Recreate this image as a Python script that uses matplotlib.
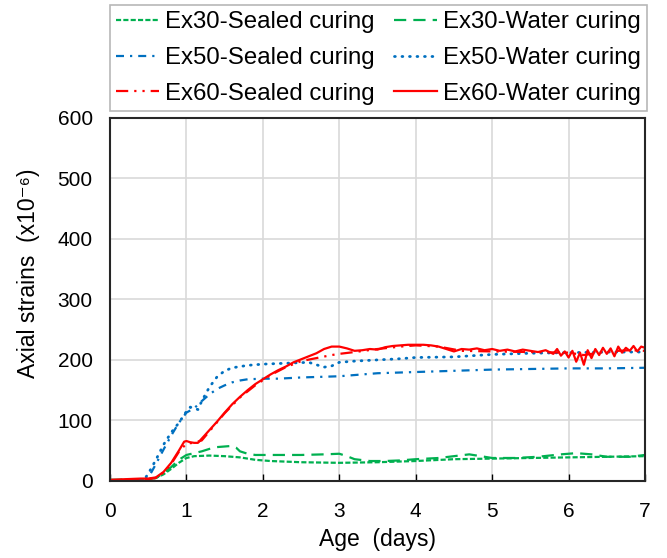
import matplotlib.pyplot as plt

plt.rcParams["font.family"] = ["Liberation Sans", "DejaVu Sans"]

# Ex30
ex30_sealed_age = [0, 0.5, 0.6, 0.7, 0.8, 0.9, 1.0, 1.1, 1.3, 1.5, 1.7, 1.9, 2.1, 2.5, 3.0, 3.5, 4.0, 4.5, 5.0, 5.5, 6.0, 6.5, 7.0]
ex30_sealed = [1, 3, 5, 11, 20, 30, 38, 41, 42, 41, 39, 35, 33, 31, 30, 31, 33, 36, 37, 38, 39, 40, 41]
ex30_water_age = [0, 0.5, 0.6, 0.7, 0.8, 0.9, 1.0, 1.1, 1.2, 1.3, 1.4, 1.5, 1.6, 1.65, 1.7, 1.8, 1.9, 2.0, 2.5, 2.8, 3.0,
                  3.1, 3.2, 3.4, 3.6, 3.8, 4.0, 4.3, 4.5, 4.7, 4.9, 5.0, 5.3, 5.6, 5.9, 6.1, 6.3, 6.5, 6.8, 7.0]
ex30_water = [2, 3, 5, 13, 23, 35, 43, 46, 49, 53, 56, 57, 58, 55, 49, 45, 43, 43, 43, 44, 45,
              41, 36, 33, 33, 34, 36, 38, 41, 44, 40, 38, 38, 40, 44, 46, 44, 40, 40, 43]

# Ex50
ex50_sealed_age = [0, 0.45, 0.5, 0.6, 0.7, 0.8, 0.9, 1.0, 1.1, 1.2, 1.3, 1.4, 1.5, 1.6, 1.7, 1.8, 2.0, 2.2, 2.5, 3.0,
                   3.5, 4.0, 4.5, 5.0, 5.5, 6.0, 6.5, 7.0]
ex50_sealed = [0, 1, 5, 28, 52, 75, 96, 113, 120, 132, 143, 152, 158, 163, 166, 168, 169, 169, 171, 173,
               178, 180, 182, 184, 185, 186, 186, 187]
ex50_water_age = [0, 0.4, 0.45, 0.5, 0.6, 0.7, 0.8, 0.9, 1.0, 1.05, 1.1, 1.15, 1.2, 1.3, 1.4, 1.5, 1.6, 1.7, 1.8, 2.0,
                  2.2, 2.4, 2.6, 2.7, 2.8, 2.9, 3.0, 3.2, 3.5, 3.8, 4.0, 4.5, 5.0, 5.5, 6.0, 6.5, 7.0]
ex50_water = [0, 1, 3, 12, 35, 60, 80, 96, 115, 122, 120, 118, 132, 155, 172, 182, 187, 189, 191, 193,
              194, 195, 196, 192, 188, 190, 196, 198, 200, 202, 204, 205, 209, 211, 212, 213, 213]

# Ex60
ex60_sealed_age = [0, 0.5, 0.6, 0.7, 0.8, 0.9, 1.0, 1.1, 1.2, 1.3, 1.5, 1.7, 1.9, 2.1, 2.3, 2.5, 2.7, 2.9, 3.0, 3.2,
                   3.5, 3.8, 4.0, 4.3, 4.6, 5.0, 5.5, 6.0, 6.2, 6.5, 6.8, 7.0]
ex60_sealed = [1, 3, 5, 14, 28, 48, 62, 63, 67, 82, 112, 138, 158, 175, 188, 198, 203, 208, 210, 213,
               218, 222, 224, 222, 215, 214, 213, 212, 208, 214, 216, 215]
ex60_water_age = [0, 0.2, 0.4, 0.5, 0.6, 0.7, 0.8, 0.9, 0.97, 1.0, 1.05, 1.1, 1.15, 1.2, 1.3, 1.4, 1.5, 1.6, 1.7, 1.8,
                  1.9, 2.0, 2.1, 2.2, 2.3, 2.4, 2.5, 2.6, 2.7, 2.8, 2.9, 3.0, 3.1, 3.2, 3.3, 3.4, 3.5, 3.6, 3.7, 3.8,
                  3.9, 4.0, 4.1, 4.2, 4.3, 4.4, 4.5, 4.6, 4.7, 4.8, 4.9, 5.0, 5.1, 5.2, 5.3, 5.4, 5.5, 5.6, 5.7, 5.8,
                  5.85, 5.9, 5.95, 6.0, 6.05, 6.1, 6.15, 6.2, 6.25, 6.3, 6.35, 6.4, 6.45, 6.5, 6.55, 6.6, 6.65, 6.7,
                  6.75, 6.8, 6.85, 6.9, 6.95, 7.0]
ex60_water = [2, 3, 4, 4, 6, 15, 30, 50, 65, 66, 64, 63, 63, 70, 84, 98, 113, 127, 139, 150,
              160, 168, 176, 183, 189, 196, 201, 206, 211, 218, 222, 222, 219, 215, 216, 218, 217, 221, 223, 224,
              225, 225, 225, 224, 222, 218, 214, 218, 217, 219, 216, 218, 215, 217, 214, 217, 215, 213, 216, 210,
              218, 207, 214, 204, 215, 197, 212, 192, 216, 203, 218, 208, 220, 210, 219, 206, 222, 212,
              220, 215, 223, 214, 222, 220]

green = "#00B050"
blue = "#0070C0"
red = "#FF0000"

fig = plt.figure(figsize=(6.67, 5.58), dpi=100)
ax = fig.add_axes([0.165, 0.138, 0.802, 0.651])

lw = 1.6
h1, = ax.plot(ex30_sealed_age, ex30_sealed, color=green, lw=lw, ls=(0, (2.3, 1)), label="Ex30-Sealed curing")
h2, = ax.plot(ex30_water_age, ex30_water, color=green, lw=lw, ls=(0, (5.5, 3.2)), label="Ex30-Water curing")
h3, = ax.plot(ex50_sealed_age, ex50_sealed, color=blue, lw=lw, ls=(0, (3.6, 2.7, 1, 2.7)), label="Ex50-Sealed curing")
h4, = ax.plot(ex50_water_age, ex50_water, color=blue, lw=2.0, ls=(0, (0.3, 2.4)), dash_capstyle="round",
              label="Ex50-Water curing")
h5, = ax.plot(ex60_sealed_age, ex60_sealed, color=red, lw=lw, ls=(0, (5.5, 2.7, 1, 2.7, 1, 2.7)),
              label="Ex60-Sealed curing")
h6, = ax.plot(ex60_water_age, ex60_water, color=red, lw=lw, label="Ex60-Water curing")

ax.set_xlim(0, 7)
ax.set_ylim(0, 600)
ax.set_xticks(range(0, 8))
ax.set_yticks(range(0, 700, 100))
ax.grid(True, color="#D9D9D9", lw=1.2)
ax.set_axisbelow(True)
for s in ax.spines.values():
    s.set_color("#262626")
    s.set_linewidth(1.5)
ax.tick_params(axis="x", direction="in", length=5, width=1, labelsize=15, pad=15)
ax.tick_params(axis="y", length=0, labelsize=15, pad=12.5)
ax.set_xlabel("Age  (days)", fontsize=16.5, labelpad=5)
ax.set_ylabel("Axial strains  (x10\u207b\u2076)", fontsize=16.5, labelpad=13, y=0.573)

leg = fig.legend(handles=[h1, h3, h5, h2, h4, h6], ncol=2, loc="upper left",
                 bbox_to_anchor=(110 / 667, 1 - 5 / 558), fontsize=17.3, frameon=True, fancybox=False,
                 edgecolor="#A6A6A6", handlelength=1.8, handletextpad=0.25, columnspacing=0.8,
                 labelspacing=0.58, borderpad=0.25, borderaxespad=0)
leg.get_frame().set_linewidth(1.2)

fig.savefig("out.png", dpi=100)
